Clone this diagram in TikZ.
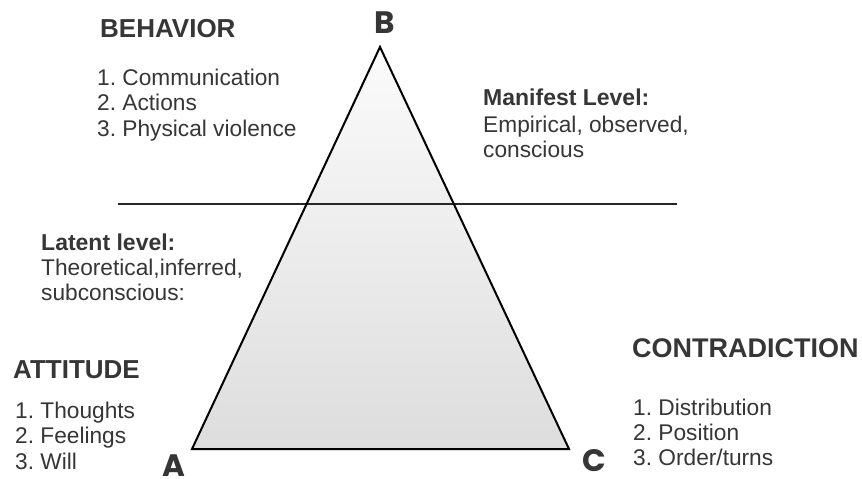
\documentclass[tikz,border=0pt]{standalone}
\usepackage{fontspec}
\setmainfont{Liberation Sans}
\newfontfamily\letterfont{Poppins}
\frenchspacing
\definecolor{txt}{HTML}{363636}
\definecolor{topfill}{HTML}{FBFBFB}
\definecolor{botfill}{HTML}{DDDDDD}
\tikzset{
  head/.style={font=\bfseries\fontsize{26}{30}\selectfont, text=txt, anchor=base west, inner sep=0pt},
  sub/.style={font=\bfseries\fontsize{23}{27}\selectfont, text=txt, anchor=base west, inner sep=0pt},
  item/.style={font=\fontsize{22.7}{26}\selectfont, text=txt, anchor=base west, inner sep=0pt},
  vertex/.style={font=\letterfont\bfseries\fontsize{31}{34}\selectfont, text=txt, anchor=base, inner sep=0pt, text depth=0pt},
  edge/.style={draw=black, line width=2pt, line join=miter},
  divider/.style={draw=black!85, line width=1.6pt}
}
\begin{document}
\begin{tikzpicture}[x=1pt,y=-1pt]
\useasboundingbox (0,0) rectangle (862,479);
\fill[white] (0,0) rectangle (862,479);
% triangle vertices
\coordinate (pA) at (192,449);
\coordinate (pB) at (380,47);
\coordinate (pC) at (569,449);
\shade[top color=topfill, bottom color=botfill] (pA) -- (pB) -- (pC) -- cycle;
% divider line
\coordinate (lineL) at (118,204);
\coordinate (lineR) at (677,204);
\draw[divider] (lineL) -- (lineR);
\draw[edge] (pA) -- (pB) -- (pC) -- cycle;
% vertex letters
\node[vertex] (labB) at (385,33) {B};
\node[vertex] (labA) at (174,476) {A};
\node[vertex] (labC) at (594,471) {C};
% behavior
\node[head] (beh) at (100,37) {BEHAVIOR};
\node[item] (beh1) at (97,85) {1. Communication};
\node[item] (beh2) at (97,110.5) {2. Actions};
\node[item] (beh3) at (97,136) {3. Physical violence};
% manifest
\node[sub] (man) at (483,105) {Manifest Level:};
\node[item] (man1) at (483,132) {Empirical, observed,};
\node[item] (man2) at (483,157) {conscious};
% latent
\node[sub] (lat) at (41,250) {Latent level:};
\node[item] (lat1) at (41,275) {Theoretical,inferred,};
\node[item] (lat2) at (41,300) {subconscious:};
% attitude
\node[head] (att) at (13,378) {ATTITUDE};
\node[item] (att1) at (15,418) {1. Thoughts};
\node[item] (att2) at (15,443.5) {2. Feelings};
\node[item] (att3) at (15,469) {3. Will};
% contradiction
\node[head, font=\bfseries\fontsize{27}{31}\selectfont] (con) at (632,357) {CONTRADICTION};
\node[item] (con1) at (633,415) {1. Distribution};
\node[item] (con2) at (633,440) {2. Position};
\node[item] (con3) at (633,465) {3. Order/turns};
\end{tikzpicture}
\end{document}
